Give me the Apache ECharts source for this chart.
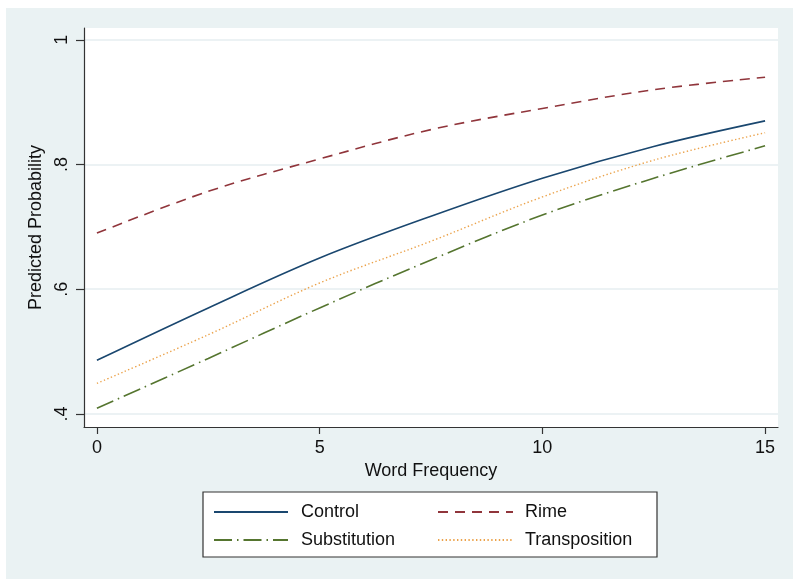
<!DOCTYPE html>
<html>
<head>
<meta charset="utf-8">
<script src="https://cdn.jsdelivr.net/npm/echarts@6/dist/echarts.min.js"></script>
<style>
  html, body { margin: 0; padding: 0; background: #ffffff; }
  #frame { position: absolute; left: 6px; top: 8px; width: 787px; height: 571px; background: #EAF2F3; }
  #chart { position: absolute; left: 0; top: 0; width: 793px; height: 579px; }
</style>
</head>
<body>
<div id="frame"></div>
<div id="chart"></div>
<script>
// Predicted probability by word frequency, one curve per condition
const wordFreq = [0, 2.5, 5, 7.5, 10, 12.5, 15];
const control       = [0.486, 0.570, 0.650, 0.717, 0.778, 0.829, 0.870];
const rime          = [0.690, 0.757, 0.809, 0.856, 0.890, 0.920, 0.940];
const substitution  = [0.409, 0.489, 0.570, 0.647, 0.719, 0.778, 0.830];
const transposition = [0.449, 0.527, 0.610, 0.677, 0.748, 0.807, 0.851];

const xTickValues = [0, 5, 10, 15];
const yTickValues = [0.4, 0.6, 0.8, 1];
const yTickLabels = ['.4', '.6', '.8', '1'];

const pairs = ys => wordFreq.map((x, i) => [x, ys[i]]);
const FONT = 'Liberation Sans, Arial, Helvetica, sans-serif';
const INK = '#111111';

function lineSeries(name, ys, color, width, dash) {
  return {
    name: name,
    type: 'line',
    data: pairs(ys),
    smooth: 0.35,
    symbol: 'none',
    lineStyle: { color: color, width: width, type: dash },
    itemStyle: { color: color },
    emphasis: { disabled: true }
  };
}

const legendBase = {
  orient: 'vertical',
  top: 503, padding: 0,
  itemHeight: 14, itemGap: 10,
  itemStyle: { opacity: 0 },
  selectedMode: false, z: 5
};

const chart = echarts.init(document.getElementById('chart'), null, { renderer: 'canvas' });

chart.setOption({
  backgroundColor: 'transparent',
  animation: false,
  textStyle: { fontFamily: FONT },
  grid: {
    left: 84, right: 15, top: 28, bottom: 152,
    show: true, backgroundColor: '#ffffff', borderWidth: 0
  },
  graphic: [{
    type: 'rect',
    shape: { x: 203, y: 492, width: 454, height: 65 },
    style: { fill: '#ffffff', stroke: '#333333', lineWidth: 1.2 },
    z: 0
  }],
  legend: [Object.assign({}, legendBase, {
    data: ['Control', 'Substitution'],
    left: 213, itemWidth: 74,
    textStyle: { fontSize: 18, color: INK, fontFamily: FONT, padding: [0, 0, 0, 8] }
  }), Object.assign({}, legendBase, {
    data: ['Rime', 'Transposition'],
    left: 437, itemWidth: 75,
    textStyle: { fontSize: 18, color: INK, fontFamily: FONT, padding: [0, 0, 0, 7] }
  })],
  xAxis: {
    type: 'value',
    min: -0.29, max: 15.29,
    name: 'Word Frequency',
    nameLocation: 'middle',
    nameGap: 31,
    nameTextStyle: { fontSize: 18, color: INK, fontFamily: FONT },
    axisLine: { show: true, onZero: false, lineStyle: { color: '#333333', width: 1.2 } },
    axisTick: { show: true, length: 7, customValues: xTickValues, lineStyle: { color: '#333333', width: 1.2 } },
    axisLabel: { customValues: xTickValues, fontSize: 18, color: INK, margin: 12, fontFamily: FONT },
    splitLine: { show: false }
  },
  yAxis: {
    type: 'value',
    min: 0.379, max: 1.019,
    name: 'Predicted Probability',
    nameLocation: 'middle',
    nameGap: 35,
    nameTextStyle: { fontSize: 18, color: INK, fontFamily: FONT },
    axisLine: { show: true, onZero: false, lineStyle: { color: '#333333', width: 1.2 } },
    axisTick: { show: true, length: 8, customValues: yTickValues, lineStyle: { color: '#333333', width: 1.2 } },
    axisLabel: {
      customValues: yTickValues,
      rotate: 90, fontSize: 18, color: INK, margin: 13, fontFamily: FONT,
      formatter: v => {
        const i = yTickValues.findIndex(t => Math.abs(t - v) < 1e-9);
        return i >= 0 ? yTickLabels[i] : '';
      }
    },
    splitLine: { show: true, lineStyle: { color: '#E6EEF0', width: 1.5 } }
  },
  series: [
    lineSeries('Control', control, '#1A476F', 1.6, 'solid'),
    lineSeries('Rime', rime, '#90353B', 1.6, [10, 7]),
    lineSeries('Substitution', substitution, '#55752F', 1.6, [18, 5, 1.5, 5]),
    lineSeries('Transposition', transposition, '#EBA24A', 1.4, [1.4, 2.4])
  ]
});
</script>
</body>
</html>
